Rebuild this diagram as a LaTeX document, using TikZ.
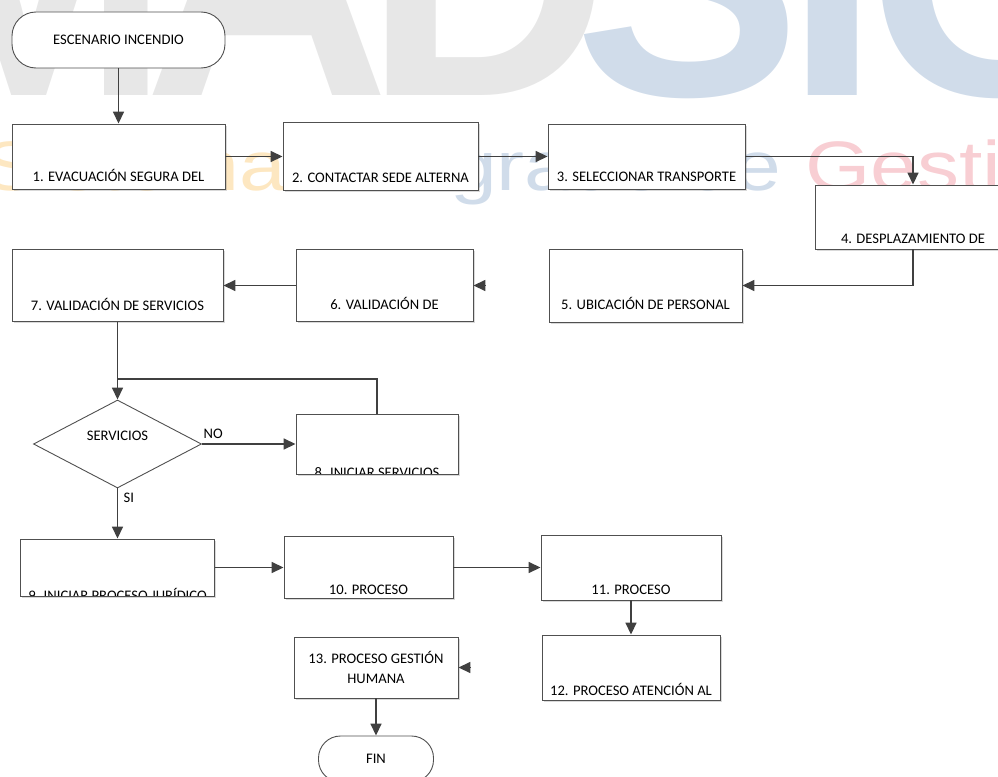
\documentclass[tikz,border=0pt]{standalone}
\usepackage{fontspec}
\setmainfont{Carlito}
\newfontfamily\wmfont{Liberation Sans}
\usetikzlibrary{calc}
\usetikzlibrary{shapes.geometric}
\usetikzlibrary{shadows}
\usetikzlibrary{arrows.meta}

\definecolor{wmgray}{RGB}{231,231,231}
\definecolor{wmblue}{RGB}{208,220,234}
\definecolor{wmorange}{RGB}{253,231,193}
\definecolor{wmred}{RGB}{248,206,211}
\definecolor{linegray}{RGB}{64,64,64}
\definecolor{boxgray}{RGB}{80,80,80}

\begin{document}
\begin{tikzpicture}[
      x=1pt, y=-1pt, >={Triangle[length=12pt,width=11pt]},
      every node/.style={font=\fontsize{14.6}{20}\selectfont},
      proc/.style={rectangle, draw=boxgray, line width=0.9pt, fill=white, inner sep=0pt,
        drop shadow={shadow xshift=1.5pt, shadow yshift=-1.5pt, fill=black, opacity=0.15}},
      term/.style={rectangle, rounded corners=24pt, draw=boxgray, line width=0.9pt, fill=white},
      decide/.style={diamond, draw=boxgray, line width=0.9pt, fill=white, inner sep=0pt},
      flow/.style={->, draw=linegray, line width=1.6pt},
      link/.style={draw=linegray, line width=1.6pt},
      wmbig/.style={font=\wmfont\bfseries\fontsize{340}{340}\selectfont, anchor=base, inner sep=0pt},
      wmline/.style={font=\wmfont\fontsize{70}{70}\selectfont, anchor=base west, inner sep=0pt}]

      \useasboundingbox (0,0) rectangle (998,776);

      % watermark
      \foreach \c/\x/\col in {M/29/wmgray, A/267/wmgray, D/487/wmgray, S/688/wmblue, I/833/wmblue, G/1000/wmblue}{
        \node[wmbig, text=\col] (wm\c) at (\x,95) {\c};
      }
      \node[wmline] (wmtxt) at (-17,190) {\scalebox{1.2}[1]{\textcolor{wmorange}{Sistema Inte}\textcolor{wmblue}{grado de }\textcolor{wmred}{Gestión}}};

      \node[term, minimum width=213pt, minimum height=56pt] (start) at (118.5,40) {ESCENARIO\ INCENDIO};

      \foreach \n/\cx/\cy/\w/\h/\b/\t in {
          1/118.5/156.5/213/65/8/{1. EVACUACIÓN SEGURA DEL},
          2/380.5/156.5/195/68/8/{2. CONTACTAR SEDE ALTERNA},
          3/646.5/156.5/197/65/8/{3. SELECCIONAR TRANSPORTE},
          4/913/217/196/64/6/{4. DESPLAZAMIENTO DE},
          5/645.5/285.5/193/73/13/{5. UBICACIÓN DE PERSONAL},
          6/384.5/285.5/177/72/12/{6. VALIDACIÓN DE},
          7/117.5/285.5/211/72/11/{7. VALIDACIÓN DE SERVICIOS},
          8/377/444/162/60/-3/{8. INICIAR SERVICIOS},
          9/117.5/567.5/194/57/-4/{9. INICIAR PROCESO JURÍDICO},
          10/368.5/567.5/169/62/4/{10. PROCESO},
          11/631/567.5/180/65/6/{11. PROCESO},
          12/631/667.5/178/65/5/{12. PROCESO ATENCIÓN AL}}{
        \node[proc, minimum width=\w pt, minimum height=\h pt,
          path picture={\node[anchor=base, inner sep=0pt] (t\n) at ([yshift=\b pt]path picture bounding box.south) {\t};}]
          (b\n) at (\cx,\cy) {};
      }
      \node[proc, minimum width=164pt, minimum height=61pt, align=center] (b13) at (376,667.5) {13. PROCESO GESTIÓN\\HUMANA};

      \node[decide, minimum width=168pt, minimum height=88pt] (dec) at (117.5,444) {};
      \node (tdec) at ([yshift=8pt]dec.center) {SERVICIOS};

      \node[term, minimum width=115pt, minimum height=46pt, rounded corners=22pt] (fin) at (376,759) {FIN};

      \coordinate (join) at (117.5,379);
      \coordinate (c6) at ([xshift=12pt]b6.east);
      \coordinate (c13) at ([xshift=12pt]b13.east);

      % edges
      \draw[flow] (start) -- (b1);
      \draw[flow] (b1) -- (b2);
      \draw[flow] (b2) -- (b3);
      \draw[flow] (b3.east) -| (b4.north);
      \draw[flow] (b4.south) |- (b5.east);
      \draw[flow] (c6) -- (b6.east);
      \draw[flow] (b6) -- (b7);
      \draw[flow] (b7) -- (dec);
      \draw[flow] (dec) -- node[pos=0.12, above=1pt] {NO} (b8);
      \draw[link] (b8.north) |- (join);
      \draw[flow] (dec) -- node[pos=0.18, right=2pt] {SI} (b9);
      \draw[flow] (b9) -- (b10);
      \draw[flow] (b10) -- (b11);
      \draw[flow] (b11) -- (b12);
      \draw[flow] (c13) -- (b13.east);
      \draw[flow] (b13) -- (fin);
    \end{tikzpicture}
\end{document}
